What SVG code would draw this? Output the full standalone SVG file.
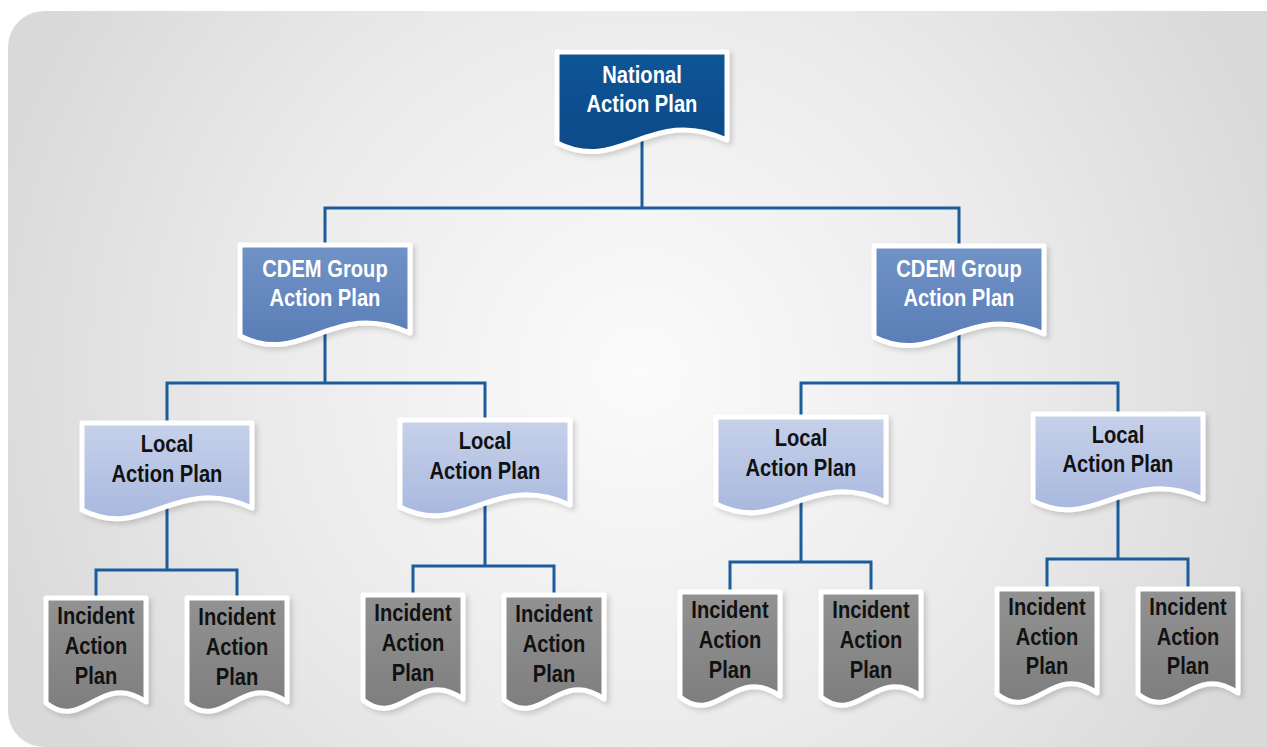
<svg xmlns="http://www.w3.org/2000/svg" width="1267" height="747" viewBox="0 0 1267 747">
  <defs>
    <radialGradient id="bg" gradientUnits="userSpaceOnUse" cx="640" cy="370" r="680">
      <stop offset="0" stop-color="#fbfbfb"/>
      <stop offset="0.55" stop-color="#ebebeb"/>
      <stop offset="1" stop-color="#d9d9d9"/>
    </radialGradient>
    <linearGradient id="g-national" x1="0" y1="0" x2="0" y2="1">
      <stop offset="0" stop-color="#0f5597"/>
      <stop offset="1" stop-color="#0a4a88"/>
    </linearGradient>
    <linearGradient id="g-group" x1="0" y1="0" x2="0" y2="1">
      <stop offset="0" stop-color="#7093c7"/>
      <stop offset="1" stop-color="#5a7db6"/>
    </linearGradient>
    <linearGradient id="g-local" x1="0" y1="0" x2="0" y2="1">
      <stop offset="0" stop-color="#c7d1ea"/>
      <stop offset="1" stop-color="#a8b8de"/>
    </linearGradient>
    <linearGradient id="g-incident" x1="0" y1="0" x2="0" y2="1">
      <stop offset="0" stop-color="#929292"/>
      <stop offset="1" stop-color="#7e7e7e"/>
    </linearGradient>
    <filter id="shadow" x="-10%" y="-10%" width="130%" height="130%">
      <feDropShadow dx="3" dy="3" stdDeviation="2.5" flood-color="#000" flood-opacity="0.15"/>
    </filter>
    <!-- document shapes with a wavy lower edge -->
    <path id="doc-wide" d="M0,0 H170 V88 C93,53 63,123 0,91 Z"/>
    <path id="doc-local" d="M0,0 H170 V85 C93,50 63,119 0,87 Z"/>
    <path id="doc-narrow" d="M0,0 H100 V104 C55,72 37,135 0,105 Z"/>
  </defs>
  <style>
    .doc { stroke: #ffffff; stroke-width: 5; stroke-linejoin: round; filter: url(#shadow); }
    .national { fill: url(#g-national); }
    .group { fill: url(#g-group); }
    .local { fill: url(#g-local); }
    .incident { fill: url(#g-incident); }
    text { font-family: "Liberation Sans", Arial, sans-serif; font-weight: bold; font-size: 24px; text-anchor: middle; }
    .light { fill: #ffffff; }
    .dark { fill: #111111; }
    .link { fill: none; stroke: #1b5c9b; stroke-width: 3; }
  </style>

  <rect x="8" y="11" width="1300" height="736" rx="36" fill="url(#bg)"/>

  <g id="connectors">
    <path class="link" d="M642,140 V208 M325,245 V208 H959 V247"/>
    <path class="link" d="M325,325 V383 M167,423 V383 H485 V420"/>
    <path class="link" d="M959,325 V383 M801,417 V383 H1118 V414"/>
    <path class="link" d="M167,500 V570 M96,598 V570 H237 V598"/>
    <path class="link" d="M485,497 V566 M413,595 V566 H554 V595"/>
    <path class="link" d="M801,494 V562 M730,592 V562 H871 V592"/>
    <path class="link" d="M1118,491 V559 M1047,589 V559 H1188 V589"/>
  </g>

  <!-- labels are set in a condensed face by narrowing the text horizontally -->
  <g id="national-plan" transform="translate(557,52)">
    <use href="#doc-wide" class="doc national"/>
    <g transform="translate(85,0) scale(0.84,1)">
      <text class="light" x="0" y="31">National</text>
      <text class="light" x="0" y="60">Action Plan</text>
    </g>
  </g>

  <g id="cdem-group-plan-1" transform="translate(240,245)">
    <use href="#doc-wide" class="doc group"/>
    <g transform="translate(85,0) scale(0.84,1)">
      <text class="light" x="0" y="32">CDEM Group</text>
      <text class="light" x="0" y="61">Action Plan</text>
    </g>
  </g>
  <g id="cdem-group-plan-2" transform="translate(874,246)">
    <use href="#doc-wide" class="doc group"/>
    <g transform="translate(85,0) scale(0.84,1)">
      <text class="light" x="0" y="31">CDEM Group</text>
      <text class="light" x="0" y="60">Action Plan</text>
    </g>
  </g>

  <g id="local-plan-1" transform="translate(82,423)">
    <use href="#doc-local" class="doc local"/>
    <g transform="translate(85,0) scale(0.84,1)">
      <text class="dark" x="0" y="29">Local</text>
      <text class="dark" x="0" y="59">Action Plan</text>
    </g>
  </g>
  <g id="local-plan-2" transform="translate(400,420)">
    <use href="#doc-local" class="doc local"/>
    <g transform="translate(85,0) scale(0.84,1)">
      <text class="dark" x="0" y="29">Local</text>
      <text class="dark" x="0" y="59">Action Plan</text>
    </g>
  </g>
  <g id="local-plan-3" transform="translate(716,417)">
    <use href="#doc-local" class="doc local"/>
    <g transform="translate(85,0) scale(0.84,1)">
      <text class="dark" x="0" y="29">Local</text>
      <text class="dark" x="0" y="59">Action Plan</text>
    </g>
  </g>
  <g id="local-plan-4" transform="translate(1033,414)">
    <use href="#doc-local" class="doc local"/>
    <g transform="translate(85,0) scale(0.84,1)">
      <text class="dark" x="0" y="29">Local</text>
      <text class="dark" x="0" y="58">Action Plan</text>
    </g>
  </g>

  <g id="incident-plan-1" transform="translate(46,598)">
    <use href="#doc-narrow" class="doc incident"/>
    <g transform="translate(50,0) scale(0.84,1)">
      <text class="dark" x="0" y="26">Incident</text>
      <text class="dark" x="0" y="56">Action</text>
      <text class="dark" x="0" y="86">Plan</text>
    </g>
  </g>
  <g id="incident-plan-2" transform="translate(187,598)">
    <use href="#doc-narrow" class="doc incident"/>
    <g transform="translate(50,0) scale(0.84,1)">
      <text class="dark" x="0" y="27">Incident</text>
      <text class="dark" x="0" y="57">Action</text>
      <text class="dark" x="0" y="87">Plan</text>
    </g>
  </g>
  <g id="incident-plan-3" transform="translate(363,595)">
    <use href="#doc-narrow" class="doc incident"/>
    <g transform="translate(50,0) scale(0.84,1)">
      <text class="dark" x="0" y="26">Incident</text>
      <text class="dark" x="0" y="56">Action</text>
      <text class="dark" x="0" y="86">Plan</text>
    </g>
  </g>
  <g id="incident-plan-4" transform="translate(504,595)">
    <use href="#doc-narrow" class="doc incident"/>
    <g transform="translate(50,0) scale(0.84,1)">
      <text class="dark" x="0" y="27">Incident</text>
      <text class="dark" x="0" y="57">Action</text>
      <text class="dark" x="0" y="87">Plan</text>
    </g>
  </g>
  <g id="incident-plan-5" transform="translate(680,592)">
    <use href="#doc-narrow" class="doc incident"/>
    <g transform="translate(50,0) scale(0.84,1)">
      <text class="dark" x="0" y="26">Incident</text>
      <text class="dark" x="0" y="56">Action</text>
      <text class="dark" x="0" y="86">Plan</text>
    </g>
  </g>
  <g id="incident-plan-6" transform="translate(821,592)">
    <use href="#doc-narrow" class="doc incident"/>
    <g transform="translate(50,0) scale(0.84,1)">
      <text class="dark" x="0" y="26">Incident</text>
      <text class="dark" x="0" y="56">Action</text>
      <text class="dark" x="0" y="86">Plan</text>
    </g>
  </g>
  <g id="incident-plan-7" transform="translate(997,589)">
    <use href="#doc-narrow" class="doc incident"/>
    <g transform="translate(50,0) scale(0.84,1)">
      <text class="dark" x="0" y="26">Incident</text>
      <text class="dark" x="0" y="56">Action</text>
      <text class="dark" x="0" y="85">Plan</text>
    </g>
  </g>
  <g id="incident-plan-8" transform="translate(1138,589)">
    <use href="#doc-narrow" class="doc incident"/>
    <g transform="translate(50,0) scale(0.84,1)">
      <text class="dark" x="0" y="26">Incident</text>
      <text class="dark" x="0" y="56">Action</text>
      <text class="dark" x="0" y="85">Plan</text>
    </g>
  </g>
</svg>
